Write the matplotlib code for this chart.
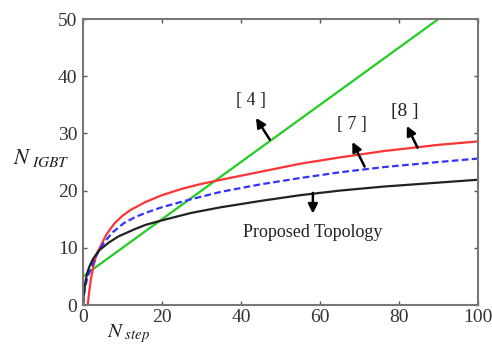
import matplotlib
matplotlib.use("Agg")
import matplotlib.pyplot as plt

plt.rcParams['font.family'] = ['Liberation Serif', 'DejaVu Serif']
plt.rcParams['mathtext.fontset'] = 'stix'

# Data
x_green = [0, 90]
y_green = [5, 50]

x_red = [1.2, 1.6, 2.0, 2.6, 3.4, 4.8, 6.0, 8.0, 10, 12, 15.8, 20, 25, 29.5, 35, 45, 55, 65, 76, 90, 100]
y_red = [0, 2.5, 4.5, 6.7, 8.8, 10.8, 12.4, 14.3, 15.6, 16.6, 18.0, 19.2, 20.3, 21.1, 21.9, 23.3, 24.7, 25.8, 26.9, 28.0, 28.6]

x_blue = [0, 0.3, 0.7, 1.2, 2.2, 3.5, 5.2, 7.5, 10.3, 13.3, 15.8, 20, 27.4, 35, 45, 55, 65, 76, 90, 100]
y_blue = [0, 2.0, 3.6, 5.0, 6.7, 8.8, 10.8, 12.7, 14.3, 15.4, 16.1, 17.1, 18.5, 19.8, 21.1, 22.2, 23.2, 24.1, 25.0, 25.6]

x_black = [0, 0.2, 0.6, 1.0, 1.6, 2.5, 4.0, 6.5, 9.0, 12.9, 15.8, 20, 27.4, 35, 45, 55, 65, 76, 90, 100]
y_black = [0, 2.0, 4.0, 5.4, 6.7, 8.0, 9.5, 10.9, 12.0, 13.2, 14.0, 14.8, 16.1, 17.1, 18.2, 19.2, 20.0, 20.7, 21.4, 21.9]

x_ticks = [0, 20, 40, 60, 80, 100]
y_ticks = [0, 10, 20, 30, 40, 50]

fig = plt.figure(figsize=(4.92, 3.54), dpi=100)
ax = fig.add_axes([0.1687, 0.1384, 0.8028, 0.8079])

ax.plot(x_green, y_green, color='#22cc22', lw=1.6)
ax.plot(x_red, y_red, color='#ff3333', lw=1.6)
ax.plot(x_blue, y_blue, color='#3333ff', lw=1.6, ls=(0, (3, 1.5)))
ax.plot(x_black, y_black, color='#222222', lw=1.6)

ax.set_xlim(0, 100)
ax.set_ylim(0, 50)
ax.set_xticks(x_ticks)
ax.set_yticks(y_ticks)
ax.tick_params(direction='in', top=True, right=True, length=3, width=1,
               colors='#555555', labelcolor='#333333', labelsize=14)
ax.tick_params(axis='x', pad=3)
ax.tick_params(axis='y', pad=4)
for s in ax.spines.values():
    s.set_color('#777777')
    s.set_linewidth(1.5)

arrow = dict(arrowstyle='-|>,head_length=0.55,head_width=0.28', color='black', lw=1.8,
             shrinkA=0, shrinkB=0)
ax.annotate('', xy=(43.8, 32.7), xytext=(47.3, 28.9), arrowprops=arrow)
ax.annotate('', xy=(68.2, 28.5), xytext=(71.3, 24.2), arrowprops=arrow)
ax.annotate('', xy=(82.0, 31.3), xytext=(84.7, 27.5), arrowprops=arrow)
ax.annotate('', xy=(58.2, 16.0), xytext=(58.2, 19.6), arrowprops=arrow)

ax.text(42.6, 35.7, '[ 4 ]', fontsize=13, ha='center', va='center', color='#222222')
ax.text(68.0, 31.6, '[ 7 ]', fontsize=13, ha='center', va='center', color='#222222')
ax.text(81.4, 33.9, '[8 ]', fontsize=14, ha='center', va='center', color='#222222')
ax.text(58.2, 12.7, 'Proposed Topology', fontsize=13, ha='center', va='center', color='#222222')

fig.text(0.085, 0.555, r'$N_{\ IGBT}$', fontsize=16, ha='center', va='center', color='#222222')
fig.text(0.262, 0.058, r'$N_{\ step}$', fontsize=15, ha='center', va='center', color='#222222')

fig.savefig('out.png', dpi=100)
